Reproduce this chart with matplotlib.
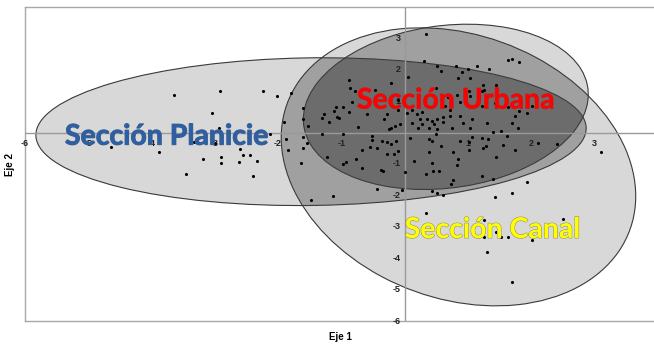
import numpy as np
import matplotlib
matplotlib.use("Agg")
import matplotlib.pyplot as plt
from matplotlib.patches import Ellipse
import matplotlib.patheffects as pe

# Sample scores (Eje 1, Eje 2)
eje1 = [
    -3.65, -2.92, -2.24, -2.02, -1.79, -3.05, -1.61, -1.90, -1.60, -1.52,
    -2.94, -2.13, -1.88, -1.61, -1.55, -1.61, -1.85, -1.64, -3.33, -3.00,
    -2.61, -2.56, -2.45, -2.91, -2.91, -3.19, -2.62, -2.34, -3.46, -2.39,
    -4.64, -3.89, -1.48, -1.14,
    0.33, 0.30, 0.51, 0.58, 0.81, 0.90, 1.00, 1.14, 1.33, 1.63, 1.69, 1.80,
    -0.88, -0.87, -0.79, -0.47, -0.21, 0.06, 0.84, 1.04, 1.45, 1.23, 1.25,
    1.22, 1.34, 1.01, 0.82, 0.68, 0.49, 0.22, 0.32,
    -0.98, -1.09, -1.11, -0.84, -0.88, -1.28, -1.31, -1.20, -1.07, -1.04,
    -0.74, -0.98, -0.28, -0.11, -0.11, -0.16, -0.24, -0.08, 0.03, 0.11, 0.19,
    0.27, 0.24, 0.35, 0.28, 0.43, 0.51, 0.47, 0.38, 0.21, 0.11, 0.51, 0.63,
    0.60, 0.60, 0.71, 0.74, 0.88, 0.92, 1.03, 1.07, 0.87, 1.04, 1.22, 1.42,
    1.63, 1.74, 1.80, 1.94, 2.01, 1.69, 1.79, 1.52, 1.39, 1.30, 0.71, 0.43,
    -0.32, -0.60, -0.21, -1.30,
    -0.51, -0.52, -0.36, -0.28, -0.21, -0.14, 0.09, 0.39, 0.49, 0.43, 0.58,
    0.87, 1.01, 1.07, 1.22, 1.31, 1.28, 1.23, 1.01, 1.61, 1.56, 1.75, 2.10,
    2.40, 3.11, 1.45, 0.84, 0.82, 0.76, 0.39, 0.33, 0.43, 0.44, 0.54, 0.14,
    0.00, -0.28, -0.17, -0.11, -0.55, -0.43, -0.68, -0.77, -0.92, -0.98,
    -1.22, -0.68, -0.38, -0.35, -0.44, -0.05, 0.76, 0.73, 0.43, 0.51, 0.60,
    1.22, 1.39, 1.94, 1.69, 1.42,
    0.33, 1.25, 2.50, 1.25, 1.44, 1.53, 1.64, 2.01, 1.30, 1.69,
]
eje2 = [
    1.21, 1.34, 1.31, 1.15, 1.25, 0.64, 0.77, 0.35, 0.42, 0.22,
    0.16, -0.03, -0.19, -0.13, -0.32, -0.48, -0.54, -0.96, -0.29, -0.32,
    -0.51, -0.70, -0.70, -0.77, -0.96, -0.83, -0.93, -0.89, -1.31, -1.37,
    -0.45, -0.61, -2.14, -2.01,
    3.13, 2.27, 2.11, 1.95, 2.11, 1.92, 2.01, 2.11, 2.01, 2.30, 2.33, 2.24,
    1.69, 1.41, 1.34, 1.37, 1.57, 1.76, 1.73, 1.73, 1.53, 1.50, 1.37,
    1.31, 1.21, 1.34, 1.21, 1.12, 1.41, 1.21, 1.12,
    0.83, 0.83, 0.70, 0.96, 0.67, 0.58, 0.45, 0.35, 0.51, 0.48,
    0.19, -0.03, 0.58, 1.05, 0.73, 0.22, 0.13, 0.26, 0.64, 0.73, 0.58,
    0.67, 0.42, 0.42, 0.26, 0.38, 0.42, 0.26, 0.16, 0.16, 0.32, 0.10, 0.86,
    0.51, 0.35, 0.54, 0.16, 0.54, 0.32, 0.16, 0.42, 0.96, 1.15, 0.86, 0.93,
    0.80, 0.54, 0.70, 0.61, 0.86, 0.32, 0.16, 0.06, 0.03, 0.32, 0.73, 0.80,
    0.42, 0.58, 0.16, -0.06,
    -0.10, -0.22, -0.26, -0.29, -0.35, -0.26, -0.16, -0.19, -0.06, -0.26, -0.42,
    -0.26, -0.29, -0.13, -0.16, -0.19, -0.42, -0.48, -0.54, -0.10, -0.38, -0.54, -0.32,
    -0.35, -0.61, -0.77, -0.83, -1.02, -0.61, -0.61, -1.31, -0.96, -1.21, -1.21, -0.89,
    -1.25, -0.67, -0.67, -0.58, -0.45, -0.48, -0.54, -0.83, -0.93, -0.99,
    -0.77, -1.12, -1.18, -1.21, -1.79, -1.82, -1.50, -1.63, -1.85, -1.92, -1.98,
    -1.37, -1.47, -1.57, -1.92, -2.04,
    -2.56, -2.78, -2.75, -3.32, -3.16, -3.32, -3.32, -3.42, -3.80, -4.76,
]

# Group ellipses: centre, width, height, angle (deg)
grupos = ["Sección Planicie", "Sección Urbana", "Sección Canal"]
centros = [(-1.48, 0.03), (0.65, 0.82), (0.85, -1.09)]
anchos = [8.7, 5.4, 8.98]
altos = [4.7, 4.34, 5.4]
angulos = [2, 68, -78]
etiqueta_pos = [(-3.76, -0.13), (0.81, 1.02), (1.39, -3.1)]
etiqueta_col = ["#2e5fa3", "#ff0000", "#ffff00"]
etiqueta_borde = ["#3d5f8a", "#9a3a3a", "#8a8a60"]

xticks = [-6, -5, -4, -3, -2, -1, 1, 2, 3]
yticks = [3, 2, 1, -1, -2, -3, -4, -5, -6]
xlim = (-6, 3.94)
ylim = (-6, 4)

fig = plt.figure(figsize=(6.54, 3.45), dpi=100)
ax = fig.add_axes([25 / 654, 24 / 345, 629 / 654, 314 / 345])
ax.set_xlim(*xlim)
ax.set_ylim(*ylim)


def dentro(X, Y, c, w, h, ang):
    t = np.deg2rad(ang)
    dx, dy = X - c[0], Y - c[1]
    u = dx * np.cos(t) + dy * np.sin(t)
    v = -dx * np.sin(t) + dy * np.cos(t)
    return (u / (w / 2)) ** 2 + (v / (h / 2)) ** 2 <= 1


# shading by number of overlapping ellipses
gx = np.linspace(xlim[0], xlim[1], 1400)
gy = np.linspace(ylim[0], ylim[1], 1000)
X, Y = np.meshgrid(gx, gy)
cuenta = np.zeros_like(X)
for c, w, h, a in zip(centros, anchos, altos, angulos):
    cuenta += dentro(X, Y, c, w, h, a)
ax.contourf(X, Y, cuenta, levels=[0.5, 1.5, 2.5, 3.5],
            colors=["#d8d8d8", "#a0a0a0", "#6c6c6c"], zorder=1, antialiased=True)

for c, w, h, a in zip(centros, anchos, altos, angulos):
    ax.add_patch(Ellipse(c, w, h, angle=a, fill=False, edgecolor="#3a3a3a",
                         linewidth=0.8, zorder=2))

# axes through the origin
ax.axhline(0, color="#9a9a9a", linewidth=1.0, zorder=3)
ax.axvline(0, color="#9a9a9a", linewidth=1.0, zorder=3)

for s in ["left", "top", "bottom"]:
    ax.spines[s].set_color("#a8a8a8")
    ax.spines[s].set_linewidth(1.0)
ax.spines["right"].set_visible(False)
ax.set_xticks([])
ax.set_yticks([])

tick_font = dict(family="Liberation Sans", fontweight="bold", fontsize=6.5,
                 color="#222222", zorder=4)
for t in xticks:
    ax.annotate(str(t), (t, 0), xytext=(0, -7.5), textcoords="offset points",
                ha="center", va="center", **tick_font)
for t in yticks:
    ax.annotate(str(t), (0, t), xytext=(-3, 0), textcoords="offset points",
                ha="right", va="center", **tick_font)

ax.scatter(eje1, eje2, s=5, color="black", linewidths=0, zorder=5)

for nombre, pos, col, borde in zip(grupos, etiqueta_pos, etiqueta_col, etiqueta_borde):
    ax.text(pos[0], pos[1], nombre, family="Lato", fontweight="bold",
            fontsize=20.5, color=col, ha="center", va="center", zorder=6,
            path_effects=[pe.withStroke(linewidth=0.7, foreground=borde)])

fig.text(340 / 654, 1 - 337 / 345, "Eje 1", family="Liberation Sans",
         fontweight="bold", fontsize=7, ha="center", va="center")
fig.text(10 / 654, 1 - 165 / 345, "Eje 2", family="Liberation Sans",
         fontweight="bold", fontsize=7, ha="center", va="center", rotation=90)

fig.savefig("out.png", dpi=100)
